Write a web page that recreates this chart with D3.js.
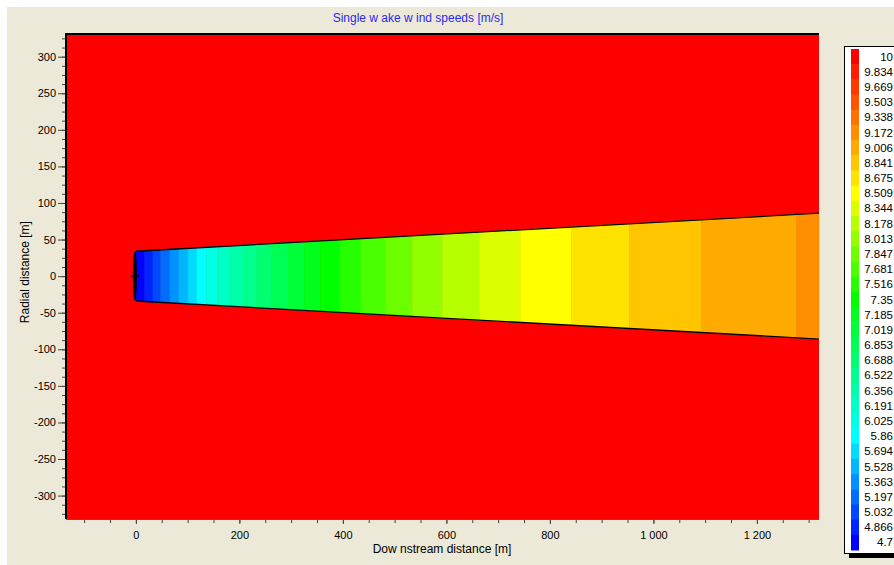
<!DOCTYPE html>
<html>
<head>
<meta charset="utf-8">
<script src="https://cdn.jsdelivr.net/npm/d3@7"></script>
<style>
  body { margin: 0; background: #fff; }
  svg { display: block; font-family: "Liberation Sans", Arial, sans-serif; }
</style>
</head>
<body>
<svg id="chart" width="894" height="565"></svg>
<script>
// legend levels, top to bottom [m/s]
const legendLevels = [10, 9.834, 9.669, 9.503, 9.338, 9.172, 9.006, 8.841, 8.675, 8.509,
  8.344, 8.178, 8.013, 7.847, 7.681, 7.516, 7.35, 7.185, 7.019, 6.853, 6.688, 6.522,
  6.356, 6.191, 6.025, 5.86, 5.694, 5.528, 5.363, 5.197, 5.032, 4.866, 4.7];

// wake colour bands: start distance [m] and speed level
const bandStart = [0, 17, 33, 48, 66, 83, 101, 118, 137, 159, 182, 207, 234, 263, 294,
  325, 356, 393, 435, 482, 534, 592, 664, 743, 842, 954, 1093, 1277];
const bandLevel = [4.7, 4.866, 5.032, 5.197, 5.363, 5.528, 5.694, 5.86, 6.025, 6.191,
  6.356, 6.522, 6.688, 6.853, 7.019, 7.185, 7.35, 7.516, 7.681, 7.847, 8.013, 8.178,
  8.344, 8.509, 8.675, 8.841, 9.006, 9.172];

// wake edge: downstream distance and half width [m]
const wakeX = [0, 1320];
const wakeRadius = [34, 86];
const rotorRadius = 34;

const xTicks = [0, 200, 400, 600, 800, 1000, 1200];
const yTicks = [-300, -250, -200, -150, -100, -50, 0, 50, 100, 150, 200, 250, 300];

const svg = d3.select('#chart');
const plot = { left: 66, top: 34, right: 819, bottom: 519 };

const x = d3.scaleLinear().domain([-135, 1320]).range([plot.left, plot.right]);
const y = d3.scaleLinear().domain([-332, 331]).range([plot.bottom, plot.top]);
const r = d3.scaleLinear().domain(wakeX).range(wakeRadius);

const color = d3.scaleLinear()
  .domain([10, 8.509, 7.35, 5.86, 4.7])
  .range(['#ff0000', '#ffff00', '#00ff00', '#00ffff', '#0000ff'])
  .interpolate(d3.interpolateHsl);

// window background
svg.append('rect').attr('x', 7).attr('y', 7).attr('width', 887).attr('height', 558)
  .attr('fill', '#ece9d8');

// free stream field
svg.append('rect')
  .attr('x', plot.left).attr('y', plot.top)
  .attr('width', plot.right - plot.left).attr('height', plot.bottom - plot.top)
  .attr('fill', color(10));

// wake bands
const area = d3.area()
  .x(d => x(d))
  .y0(d => y(-r(d)))
  .y1(d => y(r(d)));

const g = svg.append('g');
bandStart.forEach((s, i) => {
  const e = i < bandStart.length - 1 ? bandStart[i + 1] : wakeX[1];
  g.append('path')
    .attr('d', area([s, e]))
    .attr('fill', color(bandLevel[i]))
    .attr('stroke', color(bandLevel[i]))
    .attr('stroke-width', 0.6);
});

// wake edges
const edge = d3.line().x(d => x(d[0])).y(d => y(d[1]));
[1, -1].forEach(sgn => {
  svg.append('path')
    .attr('d', edge(wakeX.map(v => [v, sgn * r(v)])))
    .attr('fill', 'none')
    .attr('stroke', '#000')
    .attr('stroke-width', 1.3);
});

// rotor
svg.append('ellipse')
  .attr('cx', x(0) - 1).attr('cy', y(0))
  .attr('rx', 2).attr('ry', y(-rotorRadius) - y(0))
  .attr('fill', '#000');
svg.append('line')
  .attr('x1', x(0) - 5).attr('x2', x(0) + 3)
  .attr('y1', y(0)).attr('y2', y(0))
  .attr('stroke', '#000').attr('stroke-width', 1.5);

// frame
svg.append('line').attr('x1', plot.left).attr('x2', plot.right)
  .attr('y1', plot.top).attr('y2', plot.top).attr('stroke', '#000').attr('stroke-width', 2);
svg.append('line').attr('x1', plot.left).attr('x2', plot.left)
  .attr('y1', plot.top - 1).attr('y2', plot.bottom).attr('stroke', '#000').attr('stroke-width', 2);
svg.append('line').attr('x1', plot.left).attr('x2', plot.right)
  .attr('y1', plot.bottom + 0.5).attr('y2', plot.bottom + 0.5).attr('stroke', '#555').attr('stroke-width', 1);

// axes
const fmtX = d => d3.format(',')(d).replace(',', ' ');

function styleAxis(sel) {
  sel.select('.domain').remove();
  sel.selectAll('line').attr('stroke', '#444');
  sel.selectAll('text').attr('fill', '#000').attr('font-size', '11px')
    .attr('font-family', '"Liberation Sans", Arial, sans-serif');
}

svg.append('g')
  .attr('transform', `translate(0,${plot.bottom + 1})`)
  .call(d3.axisBottom(x).tickValues(d3.range(-100, 1320, 50)).tickSize(3).tickFormat(''))
  .call(styleAxis);
svg.append('g')
  .attr('transform', `translate(0,${plot.bottom + 1})`)
  .call(d3.axisBottom(x).tickValues(xTicks).tickSize(4).tickPadding(7).tickFormat(fmtX))
  .call(styleAxis);

svg.append('g')
  .attr('transform', `translate(${plot.left - 1},0)`)
  .call(d3.axisLeft(y).tickValues(d3.range(-325, 331, 12.5)).tickSize(3).tickFormat(''))
  .call(styleAxis);
svg.append('g')
  .attr('transform', `translate(${plot.left - 1},0)`)
  .call(d3.axisLeft(y).tickValues(yTicks).tickSize(7).tickPadding(2).tickFormat(d => String(d)))
  .call(styleAxis);

// titles
svg.append('text')
  .attr('x', 418).attr('y', 22)
  .attr('text-anchor', 'middle').attr('font-size', '12px').attr('fill', '#2a2af0')
  .text('Single w ake w ind speeds [m/s]');
svg.append('text')
  .attr('x', 442).attr('y', 553)
  .attr('text-anchor', 'middle').attr('font-size', '12px').attr('fill', '#000')
  .text('Dow nstream distance [m]');
svg.append('text')
  .attr('transform', `translate(29,${y(0) - 4}) rotate(-90)`)
  .attr('text-anchor', 'middle').attr('font-size', '12px').attr('fill', '#000')
  .text('Radial distance [m]');

// legend
const lg = { x: 844, y: 46, w: 60, h: 507 };
svg.append('rect').attr('x', lg.x + 5).attr('y', lg.y + 5).attr('width', lg.w).attr('height', lg.h)
  .attr('fill', '#000');
svg.append('rect').attr('x', lg.x + 0.5).attr('y', lg.y + 0.5).attr('width', lg.w).attr('height', lg.h)
  .attr('fill', '#fff').attr('stroke', '#000');

const ly = d3.scaleBand().domain(legendLevels).range([lg.y + 3, lg.y + lg.h - 3]);
svg.append('g').selectAll('rect')
  .data(legendLevels)
  .join('rect')
  .attr('x', 851).attr('width', 8)
  .attr('y', d => ly(d)).attr('height', ly.bandwidth() + 0.5)
  .attr('fill', d => color(d));
svg.append('g').selectAll('text')
  .data(legendLevels)
  .join('text')
  .attr('x', 893).attr('y', d => ly(d) + ly.bandwidth() / 2 + 4)
  .attr('text-anchor', 'end').attr('font-size', '11.5px').attr('fill', '#000')
  .text(d => String(d));
</script>
</body>
</html>
